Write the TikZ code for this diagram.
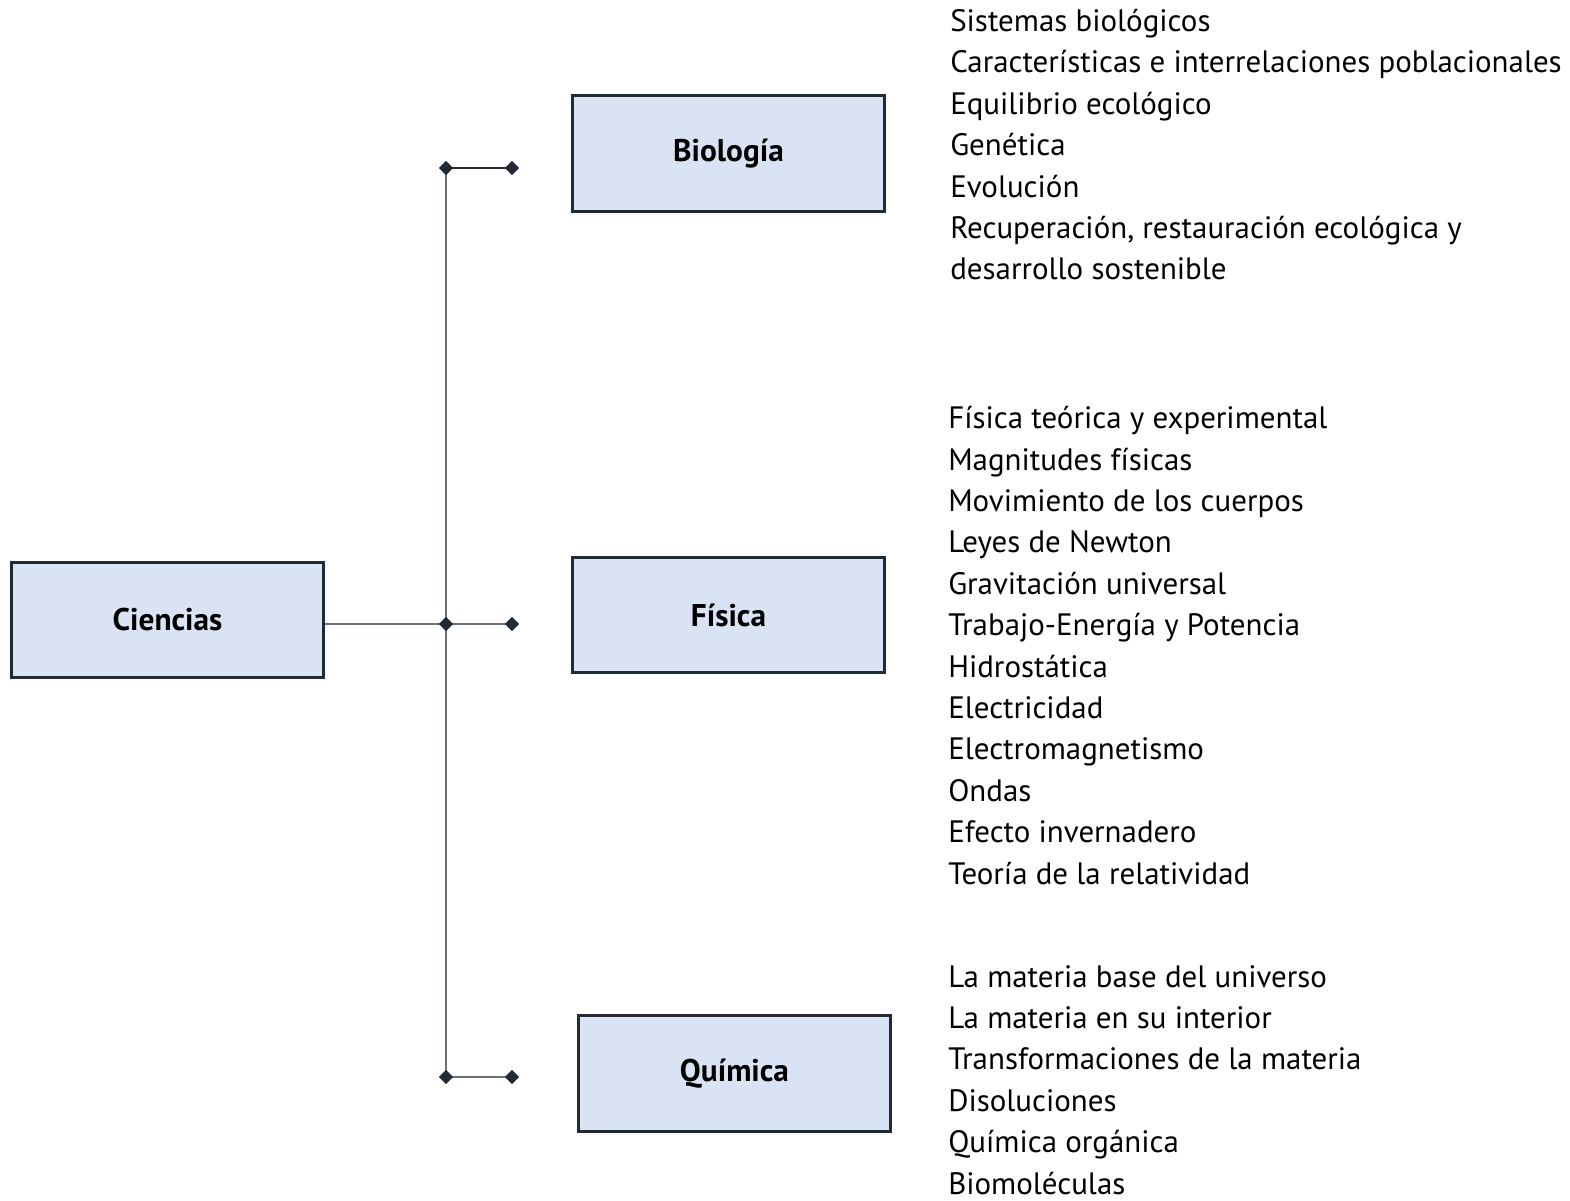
\documentclass[tikz,border=0pt]{standalone}
\usepackage{fontspec}
\setmainfont{PT Sans}
\usetikzlibrary{shapes.geometric}

\definecolor{boxfill}{HTML}{DAE3F3}
\definecolor{boxline}{HTML}{222A35}
\definecolor{linegray}{HTML}{6B6F77}

\tikzset{
  area/.style={draw=boxline, fill=boxfill, line width=2.25pt,
    minimum width=233.5pt, minimum height=86.5pt, inner sep=0pt,
    font=\fontsize{23.5}{27}\selectfont\bfseries},
  knot/.style={diamond, fill=boxline, inner sep=0pt, minimum size=11pt},
  topics/.style={align=left, anchor=base west, inner sep=0pt,
    font=\fontsize{23.2}{31.05}\selectfont}
}

\begin{document}
\begin{tikzpicture}[x=0.75pt, y=-0.75pt]
        \useasboundingbox (0,0) rectangle (1570,1201);

        % boxes
        \node [area] (ciencias) at (167.5,620) {Ciencias};
        \node [area] (bio) at (728.5,153.5) {Biología};
        \node [area] (fis) at (728.5,615) {Física};
        \node [area] (qui) at (734.5,1073.5) {Química};

        % junctions
        \coordinate (jb) at (446,168);
        \coordinate (jf) at (446,624);
        \coordinate (jq) at (446,1077);
        \coordinate (eb) at (512,168);
        \coordinate (ef) at (512,624);
        \coordinate (eq) at (512,1077);

        \begin{scope}[line width=1.5pt, draw=linegray]
        \draw (jb) -- (jq);
        \draw (ciencias.east |- jf) -- (ef);
        \draw (jq) -- (eq);
        \draw [draw=boxline] (jb) -- (eb);
        \end{scope}

        \node [knot] (kb1) at (jb) {};
        \node [knot] (kb2) at (eb) {};
        \node [knot] (kf1) at (jf) {};
        \node [knot] (kf2) at (ef) {};
        \node [knot] (kq1) at (jq) {};
        \node [knot] (kq2) at (eq) {};

        % topic lists (anchored at the baseline of their last line)
        \node [topics] (biolist) at (950,280) {Sistemas biológicos\\
          Características e interrelaciones poblacionales\\
          Equilibrio ecológico\\
          Genética\\
          Evolución\\
          Recuperación, restauración ecológica y\\
          desarrollo sostenible};
        \node [topics] (fislist) at (948,884) {Física teórica y experimental\\
          Magnitudes físicas\\
          Movimiento de los cuerpos\\
          Leyes de Newton\\
          Gravitación universal\\
          Trabajo-Energía y Potencia\\
          Hidrostática\\
          Electricidad\\
          Electromagnetismo\\
          Ondas\\
          Efecto invernadero\\
          Teoría de la relatividad};
        \node [topics] (quilist) at (948,1194) {La materia base del universo\\
          La materia en su interior\\
          Transformaciones de la materia\\
          Disoluciones\\
          Química orgánica\\
          Biomoléculas};

\end{tikzpicture}
\end{document}
